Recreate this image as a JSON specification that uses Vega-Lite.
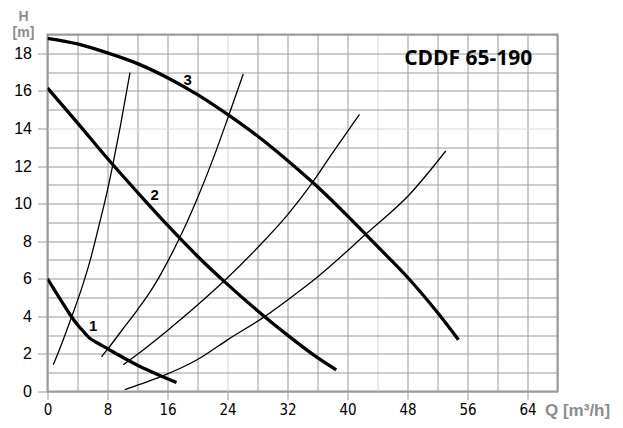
{
  "$schema": "https://vega.github.io/schema/vega-lite/v6.json",
  "autosize": "none",
  "width": 510,
  "height": 357,
  "padding": {"left": 47.5, "top": 34.5, "right": 65.5, "bottom": 36.5},
  "background": "white",
  "config": {
    "view": {"stroke": "#9a9a9a", "strokeWidth": 2},
    "axis": {"domain": false, "gridWidth": 1, "tickColor": "#9a9a9a", "tickWidth": 1}
  },
  "datasets": {
    "curves": [
      {"curve": "1", "kind": "pump", "q": 0, "h": 6.0},
      {"curve": "1", "kind": "pump", "q": 1, "h": 5.35},
      {"curve": "1", "kind": "pump", "q": 2, "h": 4.72},
      {"curve": "1", "kind": "pump", "q": 3, "h": 4.1},
      {"curve": "1", "kind": "pump", "q": 4, "h": 3.55},
      {"curve": "1", "kind": "pump", "q": 5, "h": 3.1},
      {"curve": "1", "kind": "pump", "q": 5.6, "h": 2.85},
      {"curve": "1", "kind": "pump", "q": 6.5, "h": 2.62},
      {"curve": "1", "kind": "pump", "q": 8, "h": 2.28},
      {"curve": "1", "kind": "pump", "q": 10, "h": 1.82},
      {"curve": "1", "kind": "pump", "q": 12, "h": 1.4},
      {"curve": "1", "kind": "pump", "q": 14, "h": 1.03},
      {"curve": "1", "kind": "pump", "q": 16, "h": 0.68},
      {"curve": "1", "kind": "pump", "q": 17.2, "h": 0.48},
      {"curve": "2", "kind": "pump", "q": 0, "h": 16.15},
      {"curve": "2", "kind": "pump", "q": 4, "h": 14.3},
      {"curve": "2", "kind": "pump", "q": 8, "h": 12.4},
      {"curve": "2", "kind": "pump", "q": 12, "h": 10.6},
      {"curve": "2", "kind": "pump", "q": 16, "h": 8.85},
      {"curve": "2", "kind": "pump", "q": 20, "h": 7.2},
      {"curve": "2", "kind": "pump", "q": 24, "h": 5.7},
      {"curve": "2", "kind": "pump", "q": 28, "h": 4.3},
      {"curve": "2", "kind": "pump", "q": 32, "h": 3.0},
      {"curve": "2", "kind": "pump", "q": 36, "h": 1.8},
      {"curve": "2", "kind": "pump", "q": 38.5, "h": 1.15},
      {"curve": "3", "kind": "pump", "q": 0, "h": 18.8},
      {"curve": "3", "kind": "pump", "q": 4, "h": 18.5},
      {"curve": "3", "kind": "pump", "q": 8, "h": 18.02},
      {"curve": "3", "kind": "pump", "q": 12, "h": 17.45},
      {"curve": "3", "kind": "pump", "q": 16, "h": 16.7},
      {"curve": "3", "kind": "pump", "q": 20, "h": 15.8},
      {"curve": "3", "kind": "pump", "q": 24, "h": 14.75},
      {"curve": "3", "kind": "pump", "q": 28, "h": 13.6},
      {"curve": "3", "kind": "pump", "q": 32, "h": 12.3},
      {"curve": "3", "kind": "pump", "q": 36, "h": 10.9},
      {"curve": "3", "kind": "pump", "q": 40, "h": 9.35},
      {"curve": "3", "kind": "pump", "q": 44, "h": 7.72},
      {"curve": "3", "kind": "pump", "q": 48, "h": 6.08},
      {"curve": "3", "kind": "pump", "q": 52, "h": 4.2},
      {"curve": "3", "kind": "pump", "q": 54.8, "h": 2.75},
      {"curve": "A", "kind": "system", "q": 0.77, "h": 1.42},
      {"curve": "A", "kind": "system", "q": 2, "h": 2.65},
      {"curve": "A", "kind": "system", "q": 3.2, "h": 3.95},
      {"curve": "A", "kind": "system", "q": 4.4, "h": 5.3},
      {"curve": "A", "kind": "system", "q": 5.67, "h": 6.95},
      {"curve": "A", "kind": "system", "q": 7.0, "h": 9.05},
      {"curve": "A", "kind": "system", "q": 7.9, "h": 10.55},
      {"curve": "A", "kind": "system", "q": 8.7, "h": 12.05},
      {"curve": "A", "kind": "system", "q": 9.7, "h": 14.1},
      {"curve": "A", "kind": "system", "q": 11.0, "h": 16.97},
      {"curve": "B", "kind": "system", "q": 7.2, "h": 1.85},
      {"curve": "B", "kind": "system", "q": 8.3, "h": 2.4},
      {"curve": "B", "kind": "system", "q": 10, "h": 3.3},
      {"curve": "B", "kind": "system", "q": 12, "h": 4.35},
      {"curve": "B", "kind": "system", "q": 14, "h": 5.5},
      {"curve": "B", "kind": "system", "q": 16, "h": 6.9},
      {"curve": "B", "kind": "system", "q": 17.4, "h": 8.0},
      {"curve": "B", "kind": "system", "q": 18.7, "h": 9.1},
      {"curve": "B", "kind": "system", "q": 19.9, "h": 10.2},
      {"curve": "B", "kind": "system", "q": 22, "h": 12.3},
      {"curve": "B", "kind": "system", "q": 24, "h": 14.5},
      {"curve": "B", "kind": "system", "q": 26.1, "h": 16.9},
      {"curve": "C", "kind": "system", "q": 10.1, "h": 1.42},
      {"curve": "C", "kind": "system", "q": 12, "h": 1.98},
      {"curve": "C", "kind": "system", "q": 16, "h": 3.25},
      {"curve": "C", "kind": "system", "q": 20, "h": 4.6},
      {"curve": "C", "kind": "system", "q": 24, "h": 6.05},
      {"curve": "C", "kind": "system", "q": 28, "h": 7.65},
      {"curve": "C", "kind": "system", "q": 32, "h": 9.4},
      {"curve": "C", "kind": "system", "q": 35.2, "h": 11.05},
      {"curve": "C", "kind": "system", "q": 38.1, "h": 12.75},
      {"curve": "C", "kind": "system", "q": 41.6, "h": 14.75},
      {"curve": "D", "kind": "system", "q": 10.3, "h": 0.1},
      {"curve": "D", "kind": "system", "q": 12.5, "h": 0.4},
      {"curve": "D", "kind": "system", "q": 15.2, "h": 0.8},
      {"curve": "D", "kind": "system", "q": 20, "h": 1.7},
      {"curve": "D", "kind": "system", "q": 24, "h": 2.75},
      {"curve": "D", "kind": "system", "q": 29, "h": 4.0},
      {"curve": "D", "kind": "system", "q": 33.6, "h": 5.35},
      {"curve": "D", "kind": "system", "q": 36, "h": 6.1},
      {"curve": "D", "kind": "system", "q": 42.6, "h": 8.43},
      {"curve": "D", "kind": "system", "q": 48.3, "h": 10.5},
      {"curve": "D", "kind": "system", "q": 53.1, "h": 12.8}
    ],
    "labels": [
      {"label": "1", "q": 6.1, "h": 3.46},
      {"label": "2", "q": 14.3, "h": 10.46},
      {"label": "3", "q": 18.7, "h": 16.58}
    ],
    "heading": [
      {"label": "CDDF 65-190", "q": 56.1, "h": 17.7}
    ]
  },
  "encoding": {
    "x": {
      "field": "q", "type": "quantitative",
      "scale": {"domain": [0, 68], "nice": false, "zero": false},
      "axis": {
        "values": [0, 4, 8, 12, 16, 20, 24, 28, 32, 36, 40, 44, 48, 52, 56, 60, 64, 68],
        "grid": true,
        "gridColor": {"condition": {"test": "datum.value == 24 || datum.value == 44", "value": "#d6d6d6"}, "value": "#9a9a9a"},
        "tickSize": 8,
        "tickOpacity": {"condition": {"test": "datum.value % 8 == 0 && datum.value < 68", "value": 1}, "value": 0},
        "labelExpr": "datum.value % 8 == 0 && datum.value < 68 ? datum.label : ''",
        "labelFont": "DejaVu Sans Condensed",
        "labelFontSize": 15,
        "labelColor": "black",
        "labelPadding": 3,
        "labelFlush": false,
        "labelOverlap": false,
        "title": "Q [m³/h]",
        "titleFont": "Liberation Sans",
        "titleFontSize": 17,
        "titleFontWeight": "bold",
        "titleColor": "#8c8c8c",
        "titleAlign": "left",
        "titleBaseline": "middle",
        "titleAnchor": null,
        "titleX": 497,
        "titleY": 19
      }
    },
    "y": {
      "field": "h", "type": "quantitative",
      "scale": {"domain": [0, 19], "nice": false, "zero": false},
      "axis": {
        "values": [0, 1, 2, 3, 4, 5, 6, 7, 8, 9, 10, 11, 12, 13, 14, 15, 16, 17, 18, 19],
        "grid": true,
        "gridColor": {"condition": {"test": "datum.value == 14", "value": "#d6d6d6"}, "value": "#9a9a9a"},
        "tickSize": 10,
        "tickOpacity": {"condition": {"test": "datum.value % 2 == 0 && datum.value < 19", "value": 1}, "value": 0},
        "labelExpr": "datum.value % 2 == 0 && datum.value < 19 ? datum.label : ''",
        "labelFont": "Liberation Sans",
        "labelFontSize": 16,
        "labelColor": "black",
        "labelPadding": 6,
        "labelFlush": false,
        "labelOverlap": false,
        "title": ["H", "[m]"],
        "titleFont": "Liberation Sans",
        "titleFontSize": 14,
        "titleFontWeight": "bold",
        "titleColor": "#8c8c8c",
        "titleAngle": 0,
        "titleAlign": "center",
        "titleBaseline": "top",
        "titleLineHeight": 16,
        "titleAnchor": null,
        "titleX": -24.5,
        "titleY": -25
      }
    }
  },
  "layer": [
    {
      "data": {"name": "curves"},
      "transform": [{"filter": "datum.kind == 'system'"}],
      "mark": {"type": "line", "interpolate": "monotone", "stroke": "black", "strokeWidth": 1.3, "clip": true},
      "encoding": {
        "detail": {"field": "curve"},
        "order": {"field": "q", "type": "quantitative"}
      }
    },
    {
      "data": {"name": "curves"},
      "transform": [{"filter": "datum.kind == 'pump'"}],
      "mark": {"type": "line", "interpolate": "monotone", "stroke": "black", "strokeWidth": 3.3, "clip": true},
      "encoding": {
        "detail": {"field": "curve"},
        "order": {"field": "q", "type": "quantitative"}
      }
    },
    {
      "data": {"name": "labels"},
      "mark": {"type": "text", "font": "Liberation Sans", "fontWeight": "bold", "fontSize": 15, "color": "black", "align": "center", "baseline": "middle"},
      "encoding": {
        "text": {"field": "label"}
      }
    },
    {
      "data": {"name": "heading"},
      "mark": {"type": "text", "font": "Open Sans", "fontWeight": "bold", "fontSize": 21, "color": "black", "align": "center", "baseline": "middle"},
      "encoding": {
        "text": {"field": "label"}
      }
    }
  ]
}
